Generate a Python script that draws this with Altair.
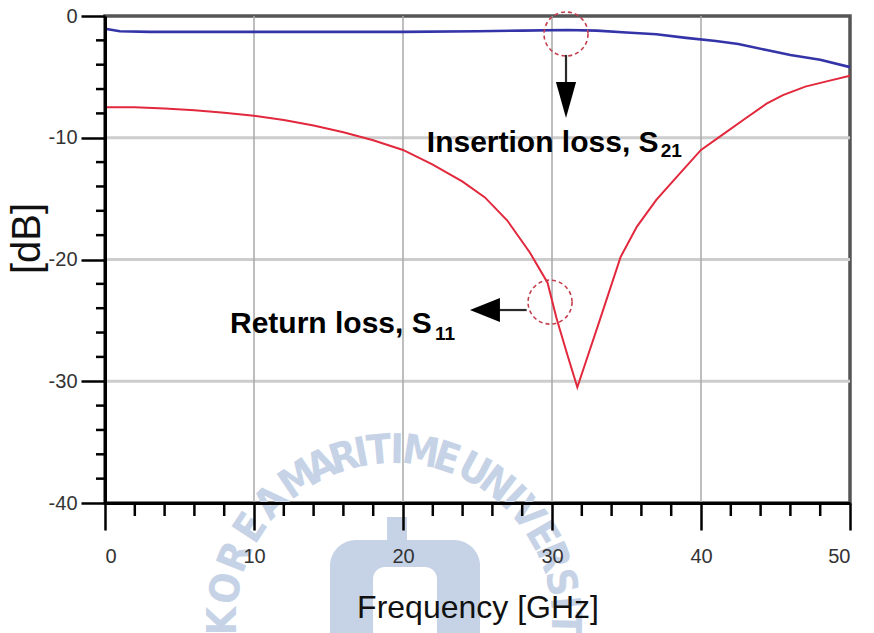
import math
import altair as alt
import pandas as pd

# ---- measured S-parameters, 0-50 GHz -------------------------------------
FREQ_S21 = [0, 1, 3, 6, 10, 15, 20, 25, 28, 31, 33, 35, 37, 39, 41, 42.5, 44.4, 46, 48, 50]
S21_DB = [-1.05, -1.25, -1.3, -1.3, -1.3, -1.3, -1.3, -1.25, -1.2, -1.15, -1.2, -1.35,
          -1.5, -1.8, -2.05, -2.3, -2.8, -3.2, -3.6, -4.2]

FREQ_S11 = [0, 2, 4, 6, 8, 10, 12, 14, 16, 18, 20, 22, 24, 25.5, 27, 28.5, 29.7, 30.3,
            31.0, 31.7, 32.3, 33.2, 34.6, 35.7, 37.0, 38.6, 40, 41.5, 43, 44.4, 45.5, 47, 48.5, 50]
S11_DB = [-7.5, -7.5, -7.6, -7.75, -7.95, -8.2, -8.55, -9.0, -9.55, -10.2, -11.0, -12.2, -13.6,
          -14.9, -16.8, -19.4, -21.9, -24.8, -27.7, -30.5, -28.3, -25.0, -19.8, -17.3, -15.1,
          -12.9, -11.0, -9.7, -8.4, -7.2, -6.5, -5.8, -5.35, -4.9]

# ---- axis ticks -----------------------------------------------------------
X_TICKS = [0, 10, 20, 30, 40, 50]
Y_TICKS = [0, -10, -20, -30, -40]
X_GRID = [10, 20, 30, 40]
Y_GRID = [-10, -20, -30]
X_MINOR = [2, 4, 6, 8, 12, 14, 16, 18, 22, 24, 26, 28, 32, 34, 36, 38, 42, 44, 46, 48]
Y_MINOR = [-2, -4, -6, -8, -12, -14, -16, -18, -22, -24, -26, -28, -32, -34, -36, -38]

# ---- annotation labels ----------------------------------------------------
LABELS = ["Insertion loss, S", "Return loss, S"]
LABEL_F = [21.6, 8.39]
LABEL_DB = [-11.17, -26.04]
SUBS = ["21", "11"]
SUB_F = [37.3, 22.15]
SUB_DB = [-11.6, -26.6]

# dashed markers around the points of interest
MARK_F = [30.94, 29.87]
MARK_DB = [-1.48, -23.5]

W, H = 745, 487
PX_F = W / 50.0   # pixels per GHz
PX_DB = H / 40.0  # pixels per dB

FONT = "Liberation Sans, Arial, Helvetica, sans-serif"
xs = alt.Scale(domain=[0, 50], nice=False, zero=False)
ys = alt.Scale(domain=[-40, 0], nice=False, zero=False)
X_TITLE = "Frequency [GHz]"
Y_TITLE = "[dB]"
# plain ASCII hyphen for negative tick labels
X_AXIS = alt.Axis(values=X_TICKS, labelExpr="'' + datum.value", zindex=1)
Y_AXIS = alt.Axis(values=Y_TICKS, labelExpr="'' + datum.value", zindex=1)


def fx(field):
    return alt.X(field, type="quantitative", scale=xs, title=X_TITLE, axis=X_AXIS)


def fy(field):
    return alt.Y(field, type="quantitative", scale=ys, title=Y_TITLE, axis=Y_AXIS)


def dx(v):
    return alt.XDatum(v, type="quantitative", scale=xs, title=X_TITLE, axis=X_AXIS)


def dy(v):
    return alt.YDatum(v, type="quantitative", scale=ys, title=Y_TITLE, axis=Y_AXIS)


# ---- faint university seal behind the plot --------------------------------
SEAL_TEXT = "KOREA MARITIME UNIVERSITY"
SEAL_ANGLES = [-90, -79, -68, -57, -46, None, -34, -25, -17, -11, -5, 1, 9, 18, None,
               28, 37, 44, 51, 60, 68, 77, 84, 91, 99]
SEAL_CF, SEAL_CDB, SEAL_R = 19.4, -49.7, 170.0
SEAL_COLOR = "#c6d3e7"

seal_rows = []
for ch, a in zip(SEAL_TEXT, SEAL_ANGLES):
    if a is None:
        continue
    t = math.radians(a)
    seal_rows.append({
        "ch": ch,
        "f": SEAL_CF + SEAL_R * math.sin(t) / PX_F,
        "db": SEAL_CDB + SEAL_R * math.cos(t) / PX_DB,
        "ang": a % 360,
    })
seal_letters = alt.Chart(pd.DataFrame(seal_rows)).mark_text(
    font="Liberation Sans Narrow, DejaVu Sans Condensed, Roboto Condensed, Liberation Sans, sans-serif",
    fontSize=41, fontWeight="bold", color=SEAL_COLOR, align="center", baseline="middle",
).encode(
    x=fx("f"), y=fy("db"), text="ch:N",
    angle=alt.Angle("ang:Q", scale=None),
)

seal_shapes = pd.DataFrame([
    {"f": 18.93, "f2": 20.27, "db": -41.15, "db2": -43.6, "fill": SEAL_COLOR, "r": 0},
    {"f": 15.1, "f2": 25.17, "db": -43.04, "db2": -52.0, "fill": SEAL_COLOR, "r": 26},
    {"f": 17.99, "f2": 22.28, "db": -45.26, "db2": -52.0, "fill": "white", "r": 12},
])
seal_logo = alt.layer(*[
    alt.Chart(seal_shapes.iloc[[i]]).mark_rect(
        color=row["fill"], cornerRadiusTopLeft=row["r"], cornerRadiusTopRight=row["r"]
    ).encode(x=fx("f"), x2="f2:Q", y=fy("db"), y2="db2:Q")
    for i, row in seal_shapes.iterrows()
])

# ---- grid -----------------------------------------------------------------
grid_y = alt.Chart(pd.DataFrame({"v": Y_GRID})).mark_rule(
    color="#cdcdcd", strokeWidth=3
).encode(y=fy("v"), x=dx(0), x2=alt.X2Datum(50))

grid_x = alt.Chart(pd.DataFrame({"v": X_GRID})).mark_rule(
    color="#a9a9a9", strokeWidth=1.5
).encode(x=fx("v"), y=dy(-40), y2=alt.Y2Datum(0))

# ---- minor ticks ------------------------------------------------------------
minor_x = alt.Chart(pd.DataFrame({"v": X_MINOR})).mark_rule(
    color="black", strokeWidth=2.5, y2Offset=13
).encode(x=fx("v"), y=dy(-40), y2=alt.Y2Datum(-40))

minor_y = alt.Chart(pd.DataFrame({"v": Y_MINOR})).mark_rule(
    color="black", strokeWidth=2.5, x2Offset=-9
).encode(y=fy("v"), x=dx(0), x2=alt.X2Datum(0))

# ---- curves ---------------------------------------------------------------
s11 = alt.Chart(pd.DataFrame({"f": FREQ_S11, "db": S11_DB})).mark_line(
    color="#e2283c", strokeWidth=2
).encode(x=fx("f"), y=fy("db"))

s21 = alt.Chart(pd.DataFrame({"f": FREQ_S21, "db": S21_DB})).mark_line(
    color="#3434a8", strokeWidth=2.6
).encode(x=fx("f"), y=fy("db"))

# ---- annotations ------------------------------------------------------------
markers = alt.Chart(pd.DataFrame({"f": MARK_F, "db": MARK_DB})).mark_point(
    shape="circle", size=44 * 44, filled=False, stroke="#c4404e",
    strokeWidth=1.6, strokeDash=[4, 3], opacity=1
).encode(x=fx("f"), y=fy("db"))

# arrow shafts: vertical one under the S21 marker, horizontal one left of the S11 marker
shafts = alt.Chart(pd.DataFrame({
    "f": [30.94, 28.3], "f2": [30.94, 26.4],
    "db": [-3.2, -24.15], "db2": [-5.6, -24.15],
})).mark_rule(color="#2a2a2a", strokeWidth=2.2).encode(
    x=fx("f"), x2="f2:Q", y=fy("db"), y2="db2:Q",
)
head_down = alt.Chart(pd.DataFrame({"f": [30.94], "db": [-6.9]})).mark_point(
    shape="M -0.56 -1 L 0.56 -1 L 0 1 Z", size=36 * 36, filled=True,
    color="black", opacity=1
).encode(x=fx("f"), y=fy("db"))

head_left = alt.Chart(pd.DataFrame({"f": [25.5], "db": [-24.15]})).mark_point(
    shape="M 1 -0.8 L 1 0.8 L -1 0 Z", size=30 * 30, filled=True,
    color="black", opacity=1
).encode(x=fx("f"), y=fy("db"))

labels = alt.Chart(pd.DataFrame({"t": LABELS, "f": LABEL_F, "db": LABEL_DB})).mark_text(
    font=FONT, fontSize=30, fontWeight="bold", color="black",
    align="left", baseline="alphabetic"
).encode(x=fx("f"), y=fy("db"), text="t:N")

subs = alt.Chart(pd.DataFrame({"t": SUBS, "f": SUB_F, "db": SUB_DB})).mark_text(
    font=FONT, fontSize=19, fontWeight="bold", color="black",
    align="left", baseline="alphabetic"
).encode(x=fx("f"), y=fy("db"), text="t:N")

chart = alt.layer(
    seal_letters, seal_logo,
    grid_y, grid_x, minor_x, minor_y,
    s11, s21,
    markers, shafts, head_down, head_left,
    labels, subs,
).properties(
    width=W, height=H,
    padding={"left": 105, "top": 16, "right": 24, "bottom": 130},
    autosize=alt.AutoSizeParams(type="none"),
).configure_view(
    stroke="#555555", strokeWidth=3.5,
).configure_axis(
    grid=False,
    domainColor="black", domainWidth=3,
    tickColor="black", tickWidth=2.5,
    labelFont=FONT, labelFontSize=20, labelColor="#333333",
    titleFont=FONT, titleFontWeight="normal", titleColor="#111111",
).configure_axisX(
    tickSize=27, labelPadding=16, titleFontSize=32, titlePadding=26,
).configure_axisY(
    tickSize=24, labelPadding=4, titleFontSize=40, titleAngle=270,
    titleX=-78, titleY=222, titleAlign="center", titleBaseline="middle",
)

chart.save("out.html", embed_options={"renderer": "svg", "actions": False})
